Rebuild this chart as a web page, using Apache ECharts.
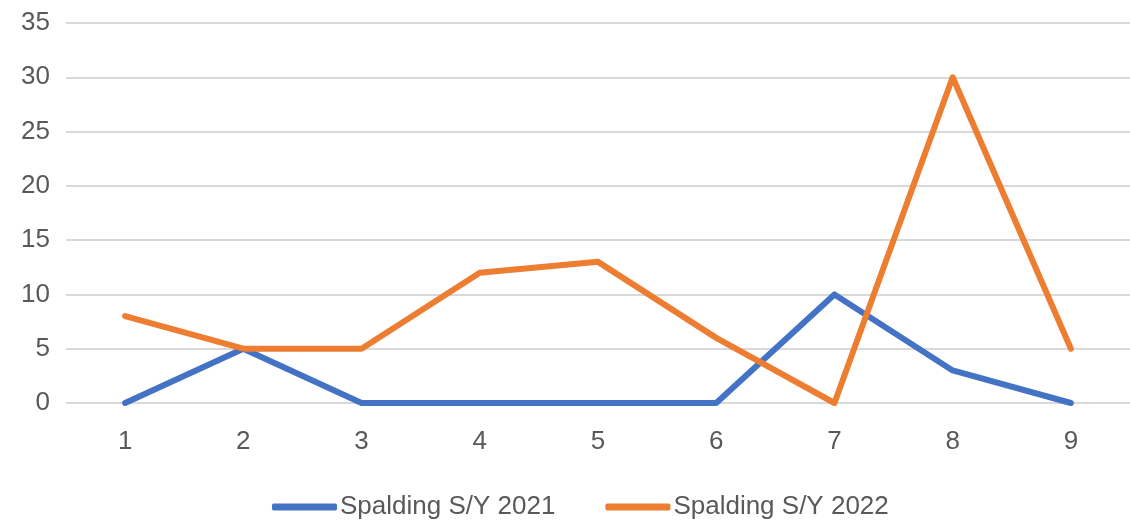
<!DOCTYPE html>
<html>
<head>
<meta charset="utf-8">
<script src="https://cdn.jsdelivr.net/npm/echarts@6/dist/echarts.min.js"></script>
<style>
  html, body { margin: 0; padding: 0; background: #fff; }
  #chart { width: 1130px; height: 525px; }
</style>
</head>
<body>
<div id="chart"></div>
<script>
const categories = ['1', '2', '3', '4', '5', '6', '7', '8', '9']
const seriesNames = ['Spalding S/Y 2021', 'Spalding S/Y 2022']
const values2021 = [0, 5, 0, 0, 0, 0, 10, 3, 0]
const values2022 = [8, 5, 5, 12, 13, 6, 0, 30, 5]
const colors = ['#4472C4', '#ED7D31']

const textColor = '#595959'
const fontFamily = '"Liberation Sans", Arial, sans-serif'

const chart = echarts.init(document.getElementById('chart'))

const makeLine = (name, data, color) => ({
  name,
  type: 'line',
  data,
  symbol: 'none',
  animation: false,
  itemStyle: { color },
  lineStyle: { color, width: 6, cap: 'round', join: 'round' },
})

chart.setOption({
  animation: false,
  grid: { left: 66, top: 23, right: -11, bottom: 122 },
  xAxis: {
    type: 'category',
    data: categories,
    boundaryGap: true,
    axisLine: { show: false },
    axisTick: { show: false },
    axisLabel: { color: textColor, fontSize: 26, fontFamily, margin: 26 },
  },
  yAxis: {
    type: 'value',
    min: 0,
    max: 35,
    interval: 5,
    axisLine: { show: false },
    axisTick: { show: false },
    axisLabel: { color: textColor, fontSize: 26, fontFamily, margin: 16 },
    splitLine: { lineStyle: { color: '#d9d9d9', width: 2 } },
  },
  legend: {
    bottom: 0,
    left: 267,
    itemWidth: 65,
    itemHeight: 7,
    itemGap: 50,
    icon: 'roundRect',
    textStyle: { color: textColor, fontSize: 26, fontFamily, padding: [0, 0, 0, -2] },
    data: seriesNames,
  },
  series: [
    makeLine(seriesNames[0], values2021, colors[0]),
    makeLine(seriesNames[1], values2022, colors[1]),
  ],
})
</script>
</body>
</html>
